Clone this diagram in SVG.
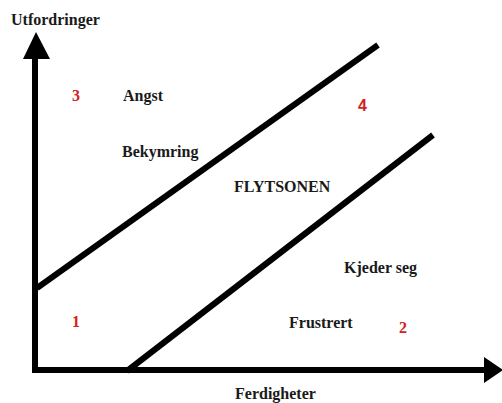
<svg xmlns="http://www.w3.org/2000/svg" width="502" height="403" viewBox="0 0 502 403">
<style>
.t{font-family:"Liberation Serif","Times New Roman",serif;font-weight:bold;font-size:16px;fill:#1a1a1a}
.n{font-family:"Liberation Serif","Times New Roman",serif;font-weight:bold;font-size:16px;fill:#d42020}
.ln{stroke:#000;stroke-width:6;fill:none}
</style>
<rect width="502" height="403" fill="#fff"/>
<g id="connectors">
<line class="ln" x1="35" y1="56" x2="35" y2="373"/>
<polygon points="36,32 23,59 50,59" fill="#000"/>
<line class="ln" x1="32" y1="370" x2="486" y2="370"/>
<polygon points="503,370 484,357 484,383" fill="#000"/>
<line class="ln" x1="37" y1="288" x2="378" y2="45"/>
<line class="ln" x1="127" y1="371" x2="433" y2="135"/>
</g>
<g id="axis-y"><text class="t" x="11" y="25">Utfordringer</text></g>
<g id="axis-x"><text class="t" x="235" y="399">Ferdigheter</text></g>
<g id="zone3"><text class="n" x="72" y="101">3</text><text class="t" x="123" y="101">Angst</text><text class="t" x="122" y="157">Bekymring</text></g>
<g id="zone4"><text class="n" x="358" y="111" style="font-family:'Liberation Sans',Arial,sans-serif">4</text><text class="t" x="234" y="192">FLYTSONEN</text></g>
<g id="zone2"><text class="t" x="344" y="273">Kjeder seg</text><text class="t" x="289" y="328">Frustrert</text><text class="n" x="399" y="333">2</text></g>
<g id="zone1"><text class="n" x="72" y="327">1</text></g>
</svg>
